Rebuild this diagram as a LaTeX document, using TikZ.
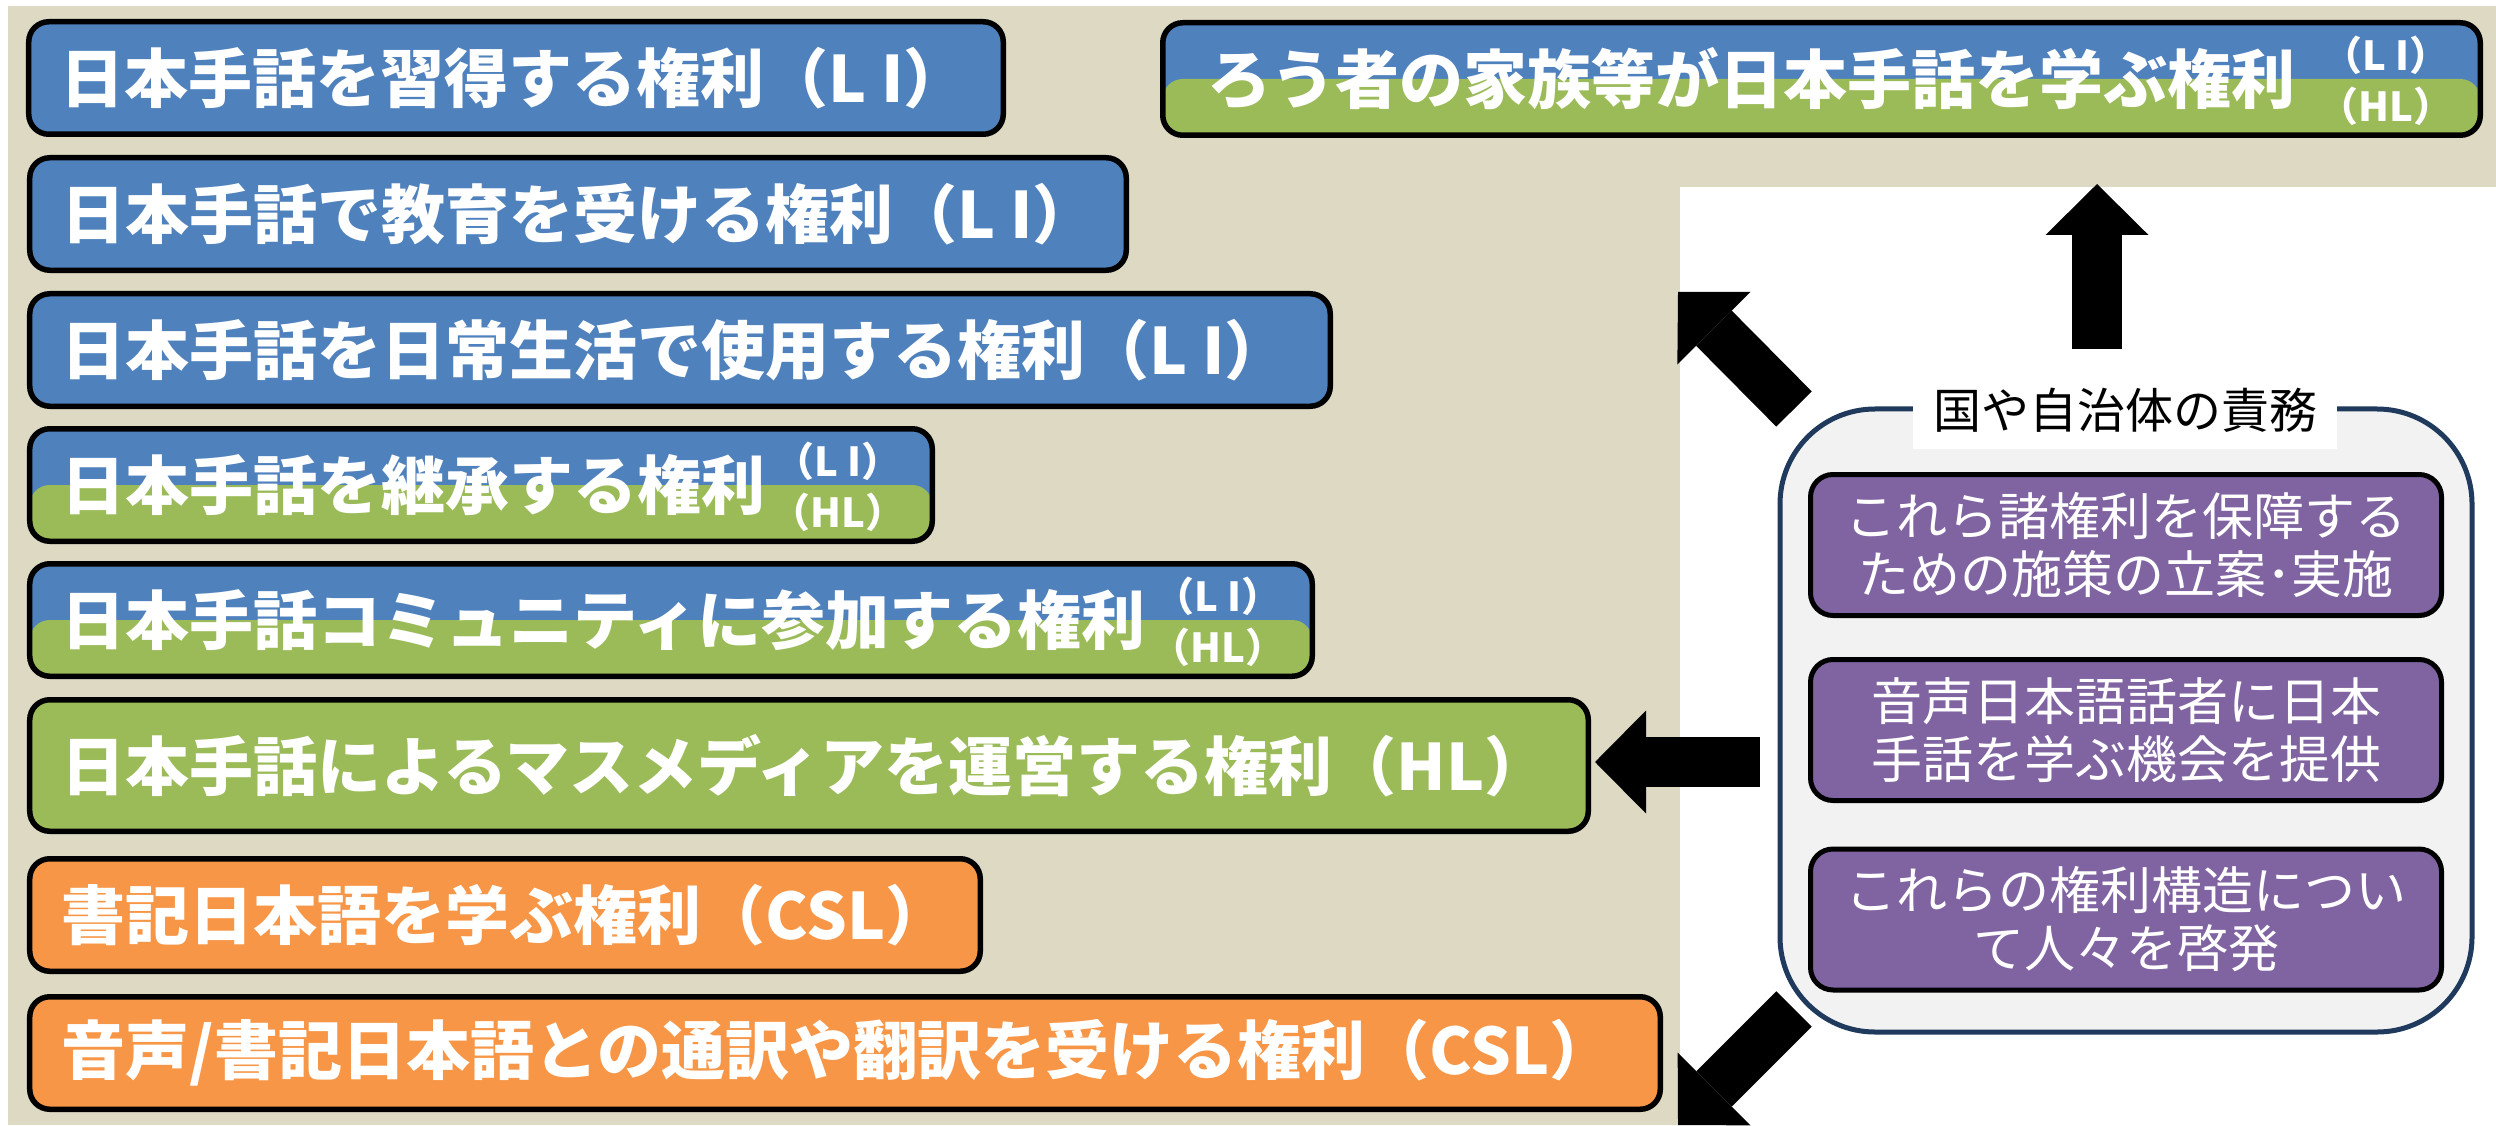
\documentclass[tikz,border=0pt]{standalone}
\usepackage{fontspec}
\setmainfont{Noto Sans CJK JP}
\usetikzlibrary{arrows.meta}
\definecolor{bgbeige}{HTML}{DDD9C3}
\definecolor{rblue}{HTML}{4F81BD}
\definecolor{rgreen}{HTML}{9BBB59}
\definecolor{rorange}{HTML}{F79646}
\definecolor{rpurple}{HTML}{8064A2}
\definecolor{panelgray}{HTML}{F2F2F2}
\definecolor{navy}{HTML}{1F3A5C}
\newcommand\LIx{（L\kern0.22em I）}
\tikzset{
  rightbox/.style={draw=black, line width=2.2pt, rounded corners=8pt, minimum height=45pt,
    inner xsep=12.8pt, inner ysep=0pt, align=left, text=white, outer sep=0pt,
    font=\fontsize{25.6pt}{30pt}\selectfont\bfseries},
  splitbox/.style={rightbox, fill=rblue, path picture={\fill[rgreen]
    (path picture bounding box.west) rectangle (path picture bounding box.south east);}},
  tag/.style={text=white, font=\fontsize{16pt}{20.4pt}\selectfont\bfseries, align=center, inner sep=0pt},
  dutybox/.style={draw=black, line width=2pt, rounded corners=9pt, fill=rpurple,
    minimum width=252.4pt, minimum height=56.4pt, text=white, align=center, inner sep=0pt,
    font=\fontsize{20.4pt}{23.2pt}\selectfont},
  blockarrow/.style={draw=black, line width=20pt,
    -{Triangle[length=20.4pt, width=41.2pt, line width=0pt]}}
}
\begin{document}
\begin{tikzpicture}[x=0.4pt, y=-0.4pt]
\useasboundingbox (0,0) rectangle (2496,1125);
\fill[white] (0,0) rectangle (2496,1125);
\fill[bgbeige] (8,6) rectangle (2496,1125);
\fill[white] (1680,187) rectangle (2496,1125);

% rights boxes
\node[rightbox, fill=rblue, text width=364.2pt] (b1) at (516,78) {日本手話を習得する権利\LIx};
\node[rightbox, fill=rblue, text width=413pt] (b2) at (578,214) {日本手話で教育を受ける権利\LIx};
\node[rightbox, fill=rblue, text width=494.6pt] (b3) at (680,350) {日本手話を日常生活で使用する権利\LIx};
\node[splitbox, text width=335.4pt] (b4) at (481,485) {日本手話を継承する権利};
\node[splitbox, text width=487.4pt] (b5) at (671,620) {日本手話コミュニティに参加する権利};
\node[rightbox, fill=rgreen, minimum height=52.6pt, text width=597.8pt] (b6) at (809,765.5) {日本手話によるマスメディアを運営する権利（HL）};
\node[rightbox, fill=rorange, text width=354.6pt] (b7) at (505,915) {書記日本語を学ぶ権利（CSL）};
\node[rightbox, fill=rorange, text width=626.6pt] (b8) at (845,1053) {音声/書記日本語との通訳や翻訳を受ける権利（CSL）};
\node[splitbox, inner xsep=18pt, text width=491pt] (tr) at (1821.5,79) {ろう者の家族等が日本手話を学ぶ権利};

\node[tag] (b4tag) at (838,487) {\LIx\\（HL）};
\node[tag] (b5tag) at (1218,622) {\LIx\\（HL）};
\node[tag] (trtag) at (2386,81) {\LIx\\（HL）};

% duties panel
\node[draw=navy, line width=2pt, fill=panelgray, rounded corners=38pt,
  minimum width=276.8pt, minimum height=249.2pt, inner sep=0pt] (panel) at (2126,720.5) {};
\node[fill=white, inner xsep=8pt, inner ysep=0pt, minimum height=31.2pt,
  font=\fontsize{19.2pt}{22pt}\selectfont] (duty) at (2125,410) {国や自治体の責務};
\node[dutybox] (p1) at (2126,545) {これら諸権利を保障する\\ための施策の立案･実施};
\node[dutybox] (p2) at (2126,730) {音声日本語話者に日本\\手話を学ぶ機会を提供};
\node[dutybox] (p3) at (2126,919.5) {これらの権利構造につい\\て人々を啓発};

% arrows
\coordinate (upS) at (2097,349);
\coordinate (upT) at (2097,184);
\coordinate (lfS) at (1760,762);
\coordinate (lfT) at (1595,762);
\coordinate (ulS) at (1794,409);
\coordinate (ulT) at (1678,292);
\coordinate (dlS) at (1794,1009);
\coordinate (dlT) at (1678,1125);
\draw[blockarrow] (upS) -- (upT);
\draw[blockarrow] (lfS) -- (lfT);
\draw[blockarrow] (ulS) -- (ulT);
\draw[blockarrow] (dlS) -- (dlT);
\end{tikzpicture}
\end{document}
